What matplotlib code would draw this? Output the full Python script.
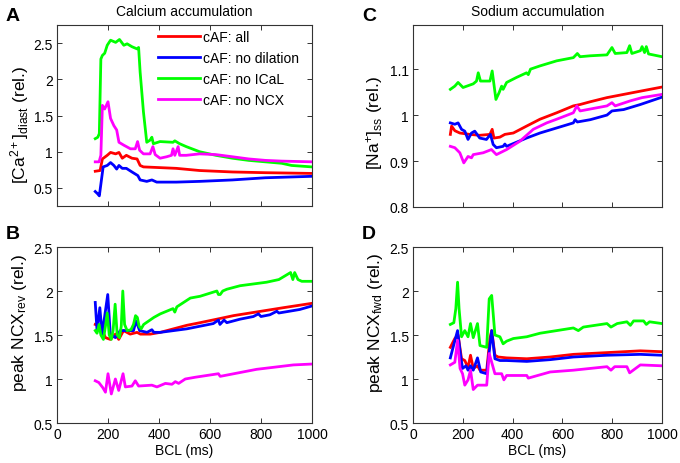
import matplotlib
matplotlib.use("Agg")
import matplotlib.pyplot as plt

plt.rcParams['font.family'] = ['Liberation Sans', 'DejaVu Sans']
plt.rcParams['mathtext.fontset'] = 'custom'
plt.rcParams['mathtext.rm'] = 'Liberation Sans'
plt.rcParams['mathtext.it'] = 'Liberation Sans'
plt.rcParams['font.size'] = 10

labels = ['cAF: all', 'cAF: no dilation', 'cAF: no ICaL', 'cAF: no NCX']
colors = ['#ff0000', '#0000ff', '#00ff00', '#ff00ff']

# ---------------- Panel A: diastolic Ca ----------------
xA_all = [150, 169, 178, 197, 210, 230, 243, 256, 272, 294, 314, 326, 339, 404, 468, 559, 688, 817, 1000]
yA_all = [0.73, 0.74, 0.90, 0.95, 0.99, 0.97, 0.99, 0.91, 0.95, 0.91, 0.90, 0.81, 0.79, 0.78, 0.77, 0.74, 0.72, 0.71, 0.70]
xA_nodil = [150, 159, 166, 175, 181, 197, 210, 223, 234, 243, 256, 272, 294, 317, 326, 352, 372, 391, 468, 559, 688, 817, 1000]
yA_nodil = [0.45, 0.42, 0.39, 0.63, 0.79, 0.81, 0.85, 0.81, 0.76, 0.81, 0.77, 0.77, 0.72, 0.67, 0.61, 0.59, 0.61, 0.58, 0.58, 0.59, 0.61, 0.64, 0.66]
xA_noical = [150, 160, 166, 172, 178, 187, 197, 210, 230, 245, 262, 275, 294, 314, 320, 326, 339, 352, 365, 372, 378, 404, 455, 462, 481, 507, 559, 623, 688, 752, 817, 881, 920, 1000]
yA_noical = [1.18, 1.20, 1.25, 2.28, 2.33, 2.36, 2.47, 2.54, 2.51, 2.55, 2.47, 2.49, 2.45, 2.42, 2.44, 2.10, 1.55, 1.13, 1.16, 1.20, 1.11, 1.14, 1.13, 1.15, 1.11, 1.07, 1.00, 0.95, 0.91, 0.88, 0.86, 0.84, 0.81, 0.79]
xA_noncx = [150, 165, 172, 178, 187, 200, 210, 223, 234, 243, 262, 288, 307, 316, 324, 339, 365, 376, 385, 404, 430, 449, 455, 462, 475, 481, 507, 559, 623, 688, 752, 817, 881, 1000]
yA_noncx = [0.86, 0.86, 0.95, 1.64, 1.59, 1.69, 1.46, 1.36, 1.30, 1.13, 1.09, 1.04, 1.04, 1.14, 1.02, 0.97, 0.97, 1.07, 0.96, 0.91, 0.93, 0.95, 1.04, 0.95, 1.07, 0.95, 0.95, 0.97, 0.96, 0.93, 0.90, 0.88, 0.87, 0.86]

# ---------------- Panel B: peak NCX reverse ----------------
xB_all = [150, 170, 190, 209, 229, 242, 261, 287, 314, 327, 366, 405, 457, 509, 561, 627, 692, 757, 822, 887, 1000]
yB_all = [1.62, 1.60, 1.47, 1.45, 1.51, 1.45, 1.55, 1.51, 1.53, 1.51, 1.51, 1.53, 1.57, 1.61, 1.64, 1.68, 1.72, 1.75, 1.78, 1.81, 1.86]
xB_nodil = [150, 157, 168, 177, 199, 209, 229, 248, 274, 300, 310, 324, 353, 372, 380, 405, 457, 509, 561, 613, 633, 639, 655, 666, 718, 770, 790, 800, 835, 862, 870, 952, 1000]
yB_nodil = [1.87, 1.55, 1.81, 1.51, 1.96, 1.51, 1.47, 1.55, 1.55, 1.55, 1.66, 1.55, 1.53, 1.56, 1.53, 1.53, 1.55, 1.57, 1.60, 1.63, 1.67, 1.62, 1.67, 1.64, 1.68, 1.71, 1.74, 1.71, 1.73, 1.77, 1.75, 1.79, 1.83]
xB_noical = [150, 157, 165, 172, 182, 190, 197, 205, 213, 220, 228, 236, 245, 252, 258, 265, 275, 290, 300, 308, 315, 322, 330, 340, 360, 380, 405, 430, 455, 462, 470, 523, 561, 627, 633, 640, 650, 666, 718, 822, 870, 916, 925, 932, 945, 960, 1000]
yB_noical = [1.55, 1.52, 1.62, 1.50, 1.45, 1.60, 1.75, 1.50, 1.45, 1.55, 1.85, 1.50, 1.47, 1.60, 2.00, 1.62, 1.55, 1.56, 1.62, 1.72, 1.70, 1.60, 1.57, 1.62, 1.66, 1.70, 1.74, 1.77, 1.80, 1.76, 1.82, 1.92, 1.94, 2.00, 1.96, 1.96, 2.00, 2.02, 2.06, 2.10, 2.13, 2.21, 2.13, 2.21, 2.13, 2.11, 2.11]
xB_noncx = [150, 164, 180, 190, 200, 213, 229, 242, 259, 268, 294, 307, 320, 372, 392, 425, 451, 464, 477, 503, 542, 633, 640, 783, 927, 1000]
yB_noncx = [0.98, 0.96, 0.90, 0.85, 1.06, 0.83, 1.00, 0.87, 1.06, 0.91, 0.92, 0.98, 0.92, 0.93, 0.91, 0.95, 0.94, 0.97, 0.95, 1.00, 1.02, 1.06, 1.03, 1.11, 1.16, 1.17]

# ---------------- Panel C: Na ss ----------------
xC_all = [150, 155, 168, 188, 228, 268, 309, 318, 325, 349, 369, 403, 456, 510, 577, 644, 671, 712, 779, 846, 913, 1000]
yC_all = [0.958, 0.976, 0.966, 0.961, 0.958, 0.956, 0.958, 0.969, 0.950, 0.952, 0.958, 0.961, 0.976, 0.991, 1.005, 1.020, 1.023, 1.029, 1.038, 1.045, 1.052, 1.061]
xC_nodil = [150, 168, 181, 195, 208, 221, 235, 248, 268, 295, 311, 322, 335, 362, 369, 376, 456, 510, 577, 644, 651, 660, 712, 779, 799, 846, 913, 1000]
yC_nodil = [0.983, 0.980, 0.983, 0.969, 0.965, 0.947, 0.961, 0.965, 0.950, 0.947, 0.958, 0.936, 0.929, 0.932, 0.937, 0.932, 0.950, 0.961, 0.972, 0.983, 0.990, 0.985, 0.990, 1.000, 1.009, 1.012, 1.023, 1.039]
xC_noical = [150, 168, 181, 201, 242, 255, 262, 271, 309, 318, 325, 333, 346, 356, 362, 376, 416, 456, 463, 472, 510, 577, 644, 660, 671, 712, 779, 799, 812, 859, 870, 879, 913, 920, 930, 937, 946, 1000]
yC_noical = [1.056, 1.063, 1.071, 1.060, 1.068, 1.074, 1.092, 1.074, 1.074, 1.096, 1.067, 1.034, 1.049, 1.063, 1.056, 1.071, 1.082, 1.092, 1.088, 1.100, 1.107, 1.118, 1.125, 1.134, 1.127, 1.129, 1.131, 1.147, 1.134, 1.136, 1.151, 1.134, 1.140, 1.149, 1.136, 1.149, 1.133, 1.127]
xC_noncx = [150, 168, 188, 204, 221, 235, 242, 282, 315, 335, 376, 429, 483, 537, 577, 644, 658, 671, 779, 799, 812, 873, 920, 1000]
yC_noncx = [0.932, 0.929, 0.918, 0.896, 0.910, 0.907, 0.914, 0.918, 0.925, 0.914, 0.925, 0.943, 0.969, 0.983, 0.991, 1.005, 1.020, 1.009, 1.020, 1.027, 1.020, 1.031, 1.038, 1.045]

# ---------------- Panel D: peak NCX forward ----------------
xD_all = [150, 168, 181, 195, 208, 221, 231, 242, 259, 269, 296, 309, 316, 329, 342, 376, 457, 551, 644, 779, 913, 1000]
yD_all = [1.36, 1.46, 1.50, 1.23, 1.21, 1.13, 1.27, 1.12, 1.15, 1.10, 1.10, 1.46, 1.55, 1.27, 1.25, 1.24, 1.23, 1.25, 1.28, 1.30, 1.32, 1.31]
xD_nodil = [150, 161, 179, 191, 199, 213, 221, 231, 242, 259, 272, 296, 309, 316, 329, 349, 376, 457, 551, 644, 779, 913, 1000]
yD_nodil = [1.24, 1.36, 1.55, 1.27, 1.12, 1.15, 1.10, 1.15, 1.10, 1.24, 1.08, 1.06, 1.38, 1.55, 1.23, 1.21, 1.21, 1.20, 1.22, 1.25, 1.27, 1.28, 1.27]
xD_noical = [150, 164, 172, 179, 185, 195, 208, 221, 231, 242, 259, 269, 296, 306, 316, 329, 349, 362, 376, 403, 457, 510, 577, 644, 664, 684, 779, 795, 820, 859, 873, 886, 926, 937, 950, 1000]
yD_noical = [1.62, 1.64, 1.80, 2.10, 1.80, 1.48, 1.55, 1.48, 1.63, 1.47, 1.63, 1.38, 1.36, 1.91, 1.95, 1.50, 1.48, 1.40, 1.43, 1.46, 1.48, 1.52, 1.55, 1.58, 1.55, 1.59, 1.63, 1.59, 1.63, 1.65, 1.61, 1.66, 1.66, 1.62, 1.65, 1.63]
xD_noncx = [150, 168, 179, 189, 199, 208, 221, 231, 242, 259, 296, 306, 316, 329, 356, 365, 376, 457, 463, 551, 644, 779, 795, 810, 859, 870, 913, 1000]
yD_noncx = [1.16, 1.19, 1.44, 1.12, 1.06, 0.93, 0.99, 1.10, 0.88, 0.93, 0.93, 1.29, 1.19, 1.06, 1.06, 0.99, 1.04, 1.04, 1.01, 1.08, 1.10, 1.14, 1.10, 1.14, 1.14, 1.07, 1.16, 1.15]

W, H = 680, 464
fig = plt.figure(figsize=(W / 100, H / 100), dpi=100)

def box(l, t, r, b):
    return [l / W, 1 - b / H, (r - l) / W, (b - t) / H]

axA = fig.add_axes(box(57, 26, 312, 207))
axB = fig.add_axes(box(57, 248, 312, 424))
axC = fig.add_axes(box(413, 26, 662, 208))
axD = fig.add_axes(box(413, 248, 662, 424))

def style(ax):
    for s in ax.spines.values():
        s.set_color('#333333')
        s.set_linewidth(0.8)
    ax.tick_params(direction='in', top=True, right=True, length=3.5, width=0.7,
                   color='#333333', labelsize=10, pad=3)
    ax.set_xlim(0, 1000)
    ax.set_xticks([0, 200, 400, 600, 800, 1000])

lw = 2.0
series = {
    axA: [(xA_all, yA_all), (xA_nodil, yA_nodil), (xA_noical, yA_noical), (xA_noncx, yA_noncx)],
    axB: [(xB_all, yB_all), (xB_nodil, yB_nodil), (xB_noical, yB_noical), (xB_noncx, yB_noncx)],
    axC: [(xC_all, yC_all), (xC_nodil, yC_nodil), (xC_noical, yC_noical), (xC_noncx, yC_noncx)],
    axD: [(xD_all, yD_all), (xD_nodil, yD_nodil), (xD_noical, yD_noical), (xD_noncx, yD_noncx)],
}
for ax, lst in series.items():
    style(ax)
    for (x, y), c, lab in zip(lst, colors, labels):
        ax.plot(x, y, color=c, lw=lw, label=lab, solid_joinstyle='round')

ylfs = 12.5
axA.set_ylim(0.25, 2.75)
axA.set_yticks([0.5, 1, 1.5, 2, 2.5])
axA.set_yticklabels(['0.5', '1', '1.5', '2', '2.5'])
axA.tick_params(labelbottom=False)
axA.set_ylabel('[Ca$^{2+}$]$_{\\rm diast}$ (rel.)', labelpad=2, fontsize=ylfs)
axA.yaxis.label.set_y(0.453)
axA.set_title('Calcium accumulation', fontsize=10, pad=7)

axC.set_ylim(0.8, 1.196)
axC.set_yticks([0.8, 0.9, 1.0, 1.1])
axC.set_yticklabels(['0.8', '0.9', '1', '1.1'])
axC.tick_params(labelbottom=False)
axC.set_ylabel('[Na$^{+}$]$_{\\rm ss}$ (rel.)', labelpad=3, fontsize=ylfs)
axC.yaxis.label.set_y(0.464)
axC.set_title('Sodium accumulation', fontsize=10, pad=7)

for ax in (axB, axD):
    ax.set_ylim(0.5, 2.5)
    ax.set_yticks([0.5, 1, 1.5, 2, 2.5])
    ax.set_yticklabels(['0.5', '1', '1.5', '2', '2.5'])
    ax.set_xlabel('BCL (ms)', labelpad=1)
axB.set_ylabel('peak NCX$_{\\rm rev}$ (rel.)', labelpad=3, fontsize=ylfs)
axD.set_ylabel('peak NCX$_{\\rm fwd}$ (rel.)', labelpad=3, fontsize=ylfs)
axB.yaxis.label.set_y(0.577)
axD.yaxis.label.set_y(0.577)

axA.legend(loc='upper left', bbox_to_anchor=((158 - 57) / 255, 1 - 5 / 181),
           frameon=False, handlelength=3.0, handletextpad=0.25,
           labelspacing=0.5, borderpad=0.0, borderaxespad=0.0, fontsize=10)

for letter, (px, py) in zip('ABCD', [(6, 8), (6, 226), (362, 8), (362, 226)]):
    fig.text(px / W, 1 - py / H, letter, fontsize=14, fontweight='bold',
             ha='left', va='top')

fig.savefig('out.png', dpi=100)
